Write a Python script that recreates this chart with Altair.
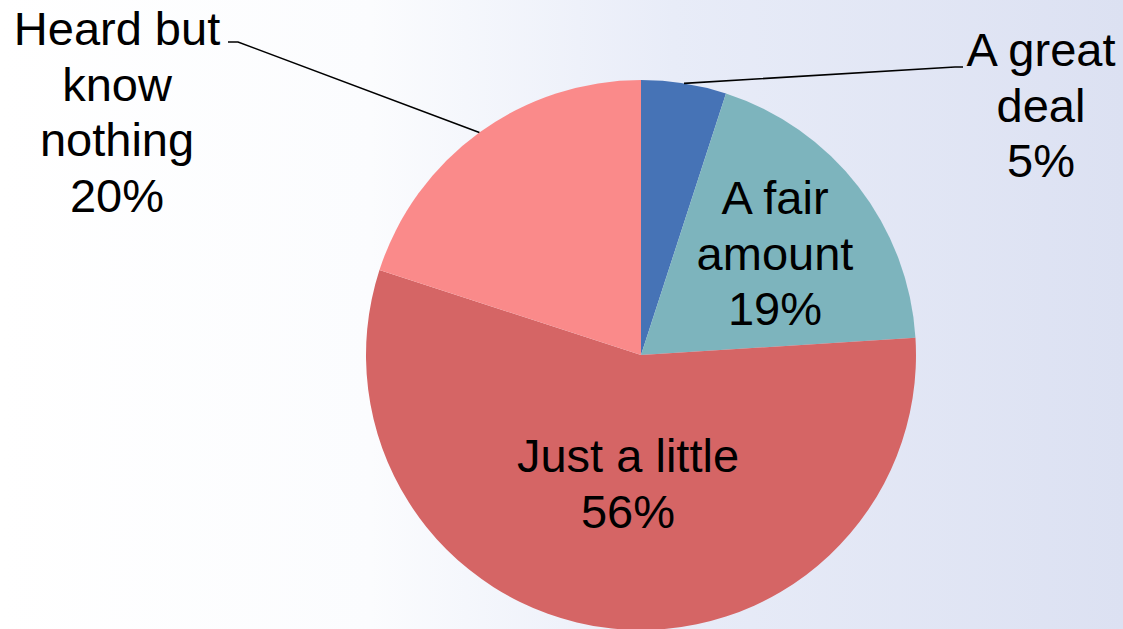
import math
import altair as alt
import pandas as pd

# ---- data ----
categories = ["A great deal", "A fair amount", "Just a little", "Heard but know nothing"]
values = [5, 19, 56, 20]
label_texts = ["A great\ndeal\n5%", "A fair\namount\n19%", "Just a little\n56%", "Heard but\nknow\nnothing\n20%"]
colors = ["#4673B6", "#7DB4BD", "#D56565", "#FA8A8A"]

# ---- layout ----
W, H = 1123, 629
CX, CY, R = 641, 355, 275
FONT = "Liberation Sans"
FS = 47
LH = 55.5
label_pos = {  # centre of the first line of each label
    "A great deal": (1041, 52),
    "A fair amount": (775, 200),
    "Just a little": (628, 458),
    "Heard but know nothing": (117, 31),
}
leader_elbows = {
    "A great deal": [(955, 67), (963, 67)],
    "Heard but know nothing": [(238, 42), (228, 42)],
}

df = pd.DataFrame({"category": categories, "value": values, "order": range(len(values))})
df_lab = pd.DataFrame({
    "category": categories,
    "label": label_texts,
    "px": [label_pos[c][0] for c in categories],
    "py": [label_pos[c][1] for c in categories],
})

# leader lines start at arc edge at each slice's mid angle
total = sum(values)
rows = []
cum = 0
for c, v in zip(categories, values):
    mid = (cum + v / 2) / total * 2 * math.pi
    cum += v
    if c in leader_elbows:
        pts = [(CX + R * math.sin(mid), CY - R * math.cos(mid))] + leader_elbows[c]
        for i, (x, y) in enumerate(pts):
            rows.append({"category": c, "i": i, "px": x, "py": y})
df_lead = pd.DataFrame(rows)

bg = alt.Chart(pd.DataFrame({"a": [0]})).mark_rect(
    color=alt.Gradient(
        gradient="linear",
        x1=0, x2=1, y1=0, y2=0,
        stops=[
            alt.GradientStop(offset=0, color="#FFFFFF"),
            alt.GradientStop(offset=0.33, color="#FBFCFE"),
            alt.GradientStop(offset=0.6, color="#E8ECF8"),
            alt.GradientStop(offset=1, color="#DCE1F2"),
        ],
    )
).encode(x=alt.value(0), x2=alt.value(W), y=alt.value(0), y2=alt.value(H))

pie = alt.Chart(df).mark_arc(radius=R).encode(
    theta=alt.Theta("value:Q", stack=True),
    order=alt.Order("order:Q"),
    color=alt.Color("category:N", scale=alt.Scale(domain=categories, range=colors), legend=None),
    x=alt.value(CX),
    y=alt.value(CY),
)

leads = alt.Chart(df_lead).mark_line(color="black", strokeWidth=1.6).encode(
    x=alt.X("px:Q", scale=None),
    y=alt.Y("py:Q", scale=None),
    detail="category:N",
    order="i:Q",
)

labels = alt.Chart(df_lab).mark_text(
    font=FONT, fontSize=FS, lineHeight=LH, lineBreak="\n",
    align="center", baseline="middle", color="black",
).encode(
    x=alt.X("px:Q", scale=None),
    y=alt.Y("py:Q", scale=None),
    text="label:N",
)

chart = alt.layer(bg, pie, leads, labels).properties(
    width=W, height=H, padding=0,
    autosize=alt.AutoSizeParams(type="none"),
).configure_view(stroke=None).configure(background="white")

chart.save("out.html", embed_options={"renderer": "svg", "actions": False})
